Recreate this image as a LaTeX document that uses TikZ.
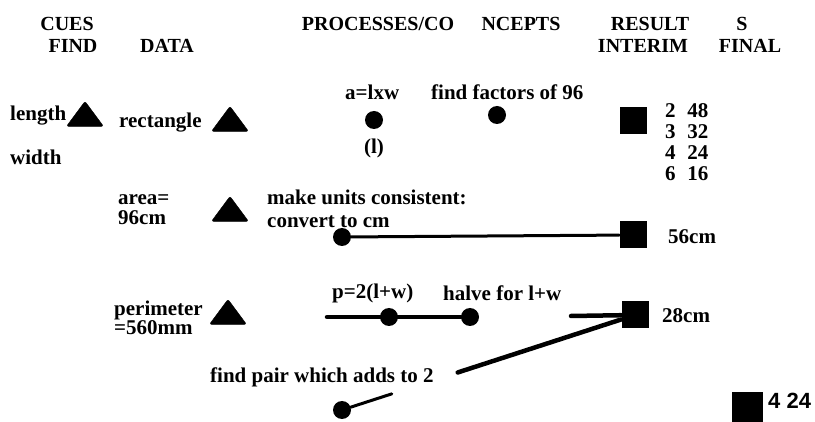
\documentclass[tikz,border=0pt]{standalone}
\usepackage{fontspec}
\setmainfont{Liberation Serif}
\setsansfont{Liberation Sans}
\usetikzlibrary{shapes.geometric, calc}
\tikzset{
  hdr/.style={inner sep=0pt, font=\fontsize{20}{22}\selectfont\bfseries},
  txt/.style={anchor=west, inner sep=0pt, align=left,
              font=\fontsize{21}{21}\selectfont\bfseries},
  cue/.style={
    isosceles triangle, isosceles triangle stretches, shape border rotate=90,
    fill=black, draw=black, rounded corners=2pt, inner sep=0pt,
    minimum width=37pt, minimum height=25pt,
  },
  proc/.style={circle, fill=black, inner sep=0pt, minimum size=18pt},
  res/.style={rectangle, fill=black, inner sep=0pt,
              minimum width=27pt, minimum height=27pt},
  link/.style={line width=3pt, line cap=round},
  thick link/.style={line width=4.5pt, line cap=round},
}

\begin{document}
\begin{tikzpicture}[x=1pt, y=-1pt]
\useasboundingbox (0,0) rectangle (815,422);

% ── Column heads ──────────────────────────────────────────────────────────
\node[hdr] (CUES)  at (67, 24)  {CUES};
\node[hdr] (FIND)  at (73, 46)  {FIND};
\node[hdr] (DATA)  at (167, 46) {DATA};
\node[hdr] (PROC)  at (378, 24) {PROCESSES/CO};
\node[hdr] (CONC)  at (521, 24) {NCEPTS};
\node[hdr] (RES)   at (650, 24) {RESULT};
\node[hdr] (RESS)  at (742, 24) {S};
\node[hdr] (INTER) at (643, 46) {INTERIM};
\node[hdr] (FINAL) at (750, 46) {FINAL};

% ── Row 1: rectangle ──────────────────────────────────────────────────────
\node[txt] (LEN)  at (10, 116)  {length};
\node[cue] (TRI1) at (85, 117)  {};
\node[txt] (WID)  at (10, 157)  {width};
\node[txt] (RECT) at (119, 123) {rectangle};
\node[cue] (TRI2) at (230, 122) {};
\node[txt] (ALW)  at (345, 92)  {a=lxw};
\node[proc] (DOT1) at (374, 120) {};
\node[txt, anchor=center] (ONE) at (374, 148) {(l)};
\node[txt] (FAC)  at (431, 92)  {find factors of 96};
\node[proc] (DOT2) at (497, 115) {};
\node[res]  (SQ1)  at (633, 121) {};
\node[txt, anchor=north west] (PAIRS) at (665, 103)
  {2\hspace{0.55em}48\\3\hspace{0.55em}32\\4\hspace{0.55em}24\\6\hspace{0.55em}16};

% ── Row 2: area ───────────────────────────────────────────────────────────
\node[txt, font=\fontsize{21}{20}\selectfont\bfseries] (AREA) at (118, 210)
  {area=\\96cm};
\node[cue] (TRI3) at (230, 212) {};
\node[txt, font=\fontsize{21}{23}\selectfont\bfseries] (UNITS) at (267, 209)
  {make units consistent:\\convert to cm};
\node[proc] (DOT3) at (342, 237) {};
\node[res]  (SQ2)  at (633, 235) {};
\node[txt] (R56) at (668, 237) {56cm};

\draw[link] (DOT3) -- (SQ2);

% ── Row 3: perimeter ──────────────────────────────────────────────────────
\node[txt, font=\fontsize{21}{17}\selectfont\bfseries] (PERIM) at (114, 318)
  {perimeter\\=560mm};
\node[cue] (TRI4) at (228, 315) {};
\node[txt] (P2LW)  at (332, 293) {p=2(l+w)};
\node[txt] (HALVE) at (443, 293) {halve for l+w};
\coordinate (PW) at (327, 317);
\node[proc] (DOT4) at (389, 317) {};
\node[proc] (DOT5) at (470, 317) {};
\coordinate (HW) at (571, 316);
\node[res]  (SQ3)  at (635, 315) {};
\node[txt] (R28) at (662, 316) {28cm};

\draw[thick link] (PW) -- (DOT5);
\draw[thick link] (HW) -- (SQ3);

% ── Row 4: pair ───────────────────────────────────────────────────────────
\node[txt] (PAIR) at (210, 377) {find pair which adds to 2};
\node[proc] (DOT6) at (342, 410) {};
\draw[link] (DOT6) -- ($(DOT6)!0.17!(SQ3)$);
\draw[thick link] ($(DOT6)!0.395!(SQ3)$) -- (SQ3);

\node[res, minimum width=31pt, minimum height=30pt] (SQ4) at (747, 407) {};
\node[anchor=west, inner sep=0pt, font=\fontsize{22}{24}\sffamily\bfseries]
  (F424) at (768, 401) {4 24};

\end{tikzpicture}
\end{document}
